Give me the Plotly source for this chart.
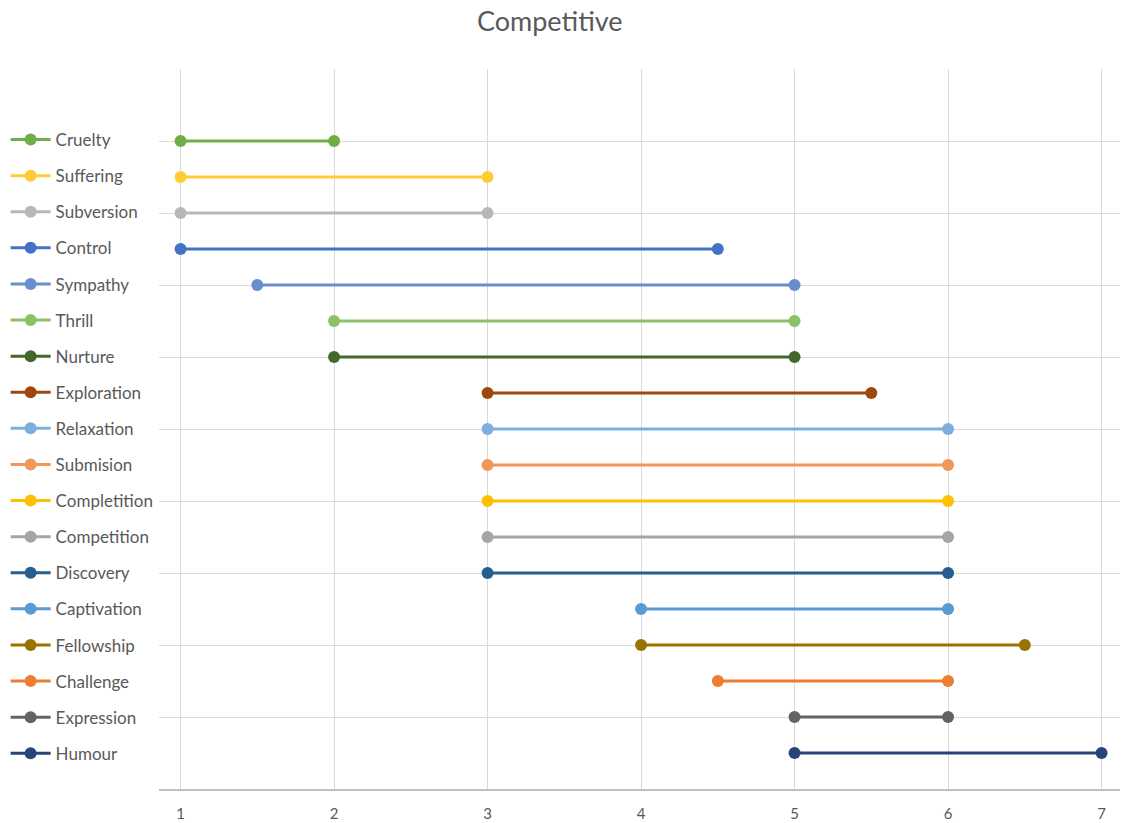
import plotly.graph_objects as go

names = ["Cruelty", "Suffering", "Subversion", "Control", "Sympathy", "Thrill", "Nurture",
         "Exploration", "Relaxation", "Submision", "Completition", "Competition", "Discovery",
         "Captivation", "Fellowship", "Challenge", "Expression", "Humour"]
start = [1, 1, 1, 1, 1.5, 2, 2, 3, 3, 3, 3, 3, 3, 4, 4, 4.5, 5, 5]
end = [2, 3, 3, 4.5, 5, 5, 5, 5.5, 6, 6, 6, 6, 6, 6, 6.5, 6, 6, 7]
colors = ["#70AD47", "#FFCD33", "#B7B7B7", "#4472C4", "#698ED0", "#8CC168", "#43682B",
          "#9E480E", "#7CAFDD", "#F1975A", "#FFC000", "#A5A5A5", "#255E91", "#5B9BD5",
          "#997300", "#ED7D31", "#636363", "#264478"]
rows = list(range(len(names), 0, -1))  # Cruelty at top

fig = go.Figure()
for n, s, e, c, r in zip(names, start, end, colors, rows):
    fig.add_trace(go.Scatter(
        x=[s, e], y=[r, r], mode="lines+markers", name=n, legendgroup=n,
        line=dict(color=c, width=3), marker=dict(color=c, size=12),
    ))

font_color = "#595959"
ff = "Lato"
fig.update_layout(
    width=1122, height=823,
    paper_bgcolor="white", plot_bgcolor="white",
    margin=dict(l=158, r=2, t=69, b=34),
    title=dict(text="Competitive", x=0.49, xref="container", xanchor="center",
               y=1 - 22 / 823, yref="container", yanchor="middle",
               font=dict(family=ff, size=27, color=font_color)),
    font=dict(family=ff, size=17, color=font_color),
    legend=dict(xref="container", yref="container", x=0.005, xanchor="left",
                y=1 - 122 / 823, yanchor="top", tracegroupgap=11,
                maxheight=800,
                font=dict(family=ff, size=17, color=font_color),
                itemwidth=40, bgcolor="rgba(0,0,0,0)"),
    showlegend=True,
)
fig.update_xaxes(range=[0.857, 7.12], tickvals=[1, 2, 3, 4, 5, 6, 7],
                 showgrid=True, gridcolor="#D9D9D9", gridwidth=1,
                 showline=True, linecolor="#BFBFBF", linewidth=1.5,
                 zeroline=False, ticks="", ticklabelstandoff=10, automargin=False,
                 tickfont=dict(family=ff, size=15, color=font_color))
fig.update_yaxes(range=[0, 20], dtick=2, showticklabels=False, automargin=False,
                 showgrid=True, gridcolor="#D9D9D9", gridwidth=1, zeroline=False)

fig.write_html("out.html")
